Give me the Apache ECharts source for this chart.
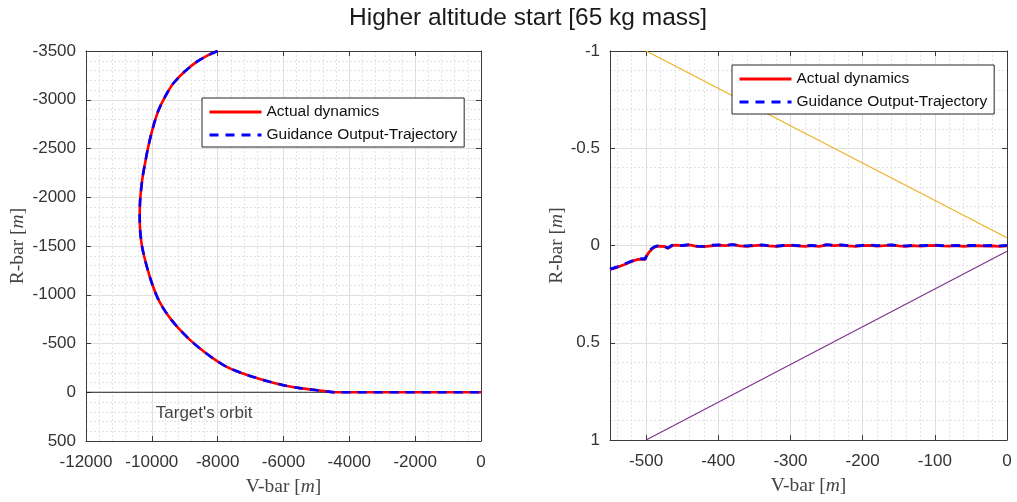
<!DOCTYPE html>
<html>
<head>
<meta charset="utf-8">
<script src="https://cdn.jsdelivr.net/npm/echarts@6/dist/echarts.min.js"></script>
<style>
html,body{margin:0;padding:0;background:#fff;}
#c{width:1017px;height:502px;}
</style>
</head>
<body>
<div id="c"></div>
<script>
// ---------- data ----------
const titleText = 'Higher altitude start [65 kg mass]';
const seriesNames = ['Actual dynamics', 'Guidance Output-Trajectory'];

// left panel: full approach [V-bar, R-bar]
const leftActual = [[-8000,-3500],[-8300,-3455],[-8640,-3388],[-9000,-3290],[-9350,-3166],[-9600,-3030],[-9800,-2890],[-9970,-2710],[-10110,-2516],[-10200,-2360],[-10280,-2208],[-10335,-2050],[-10360,-1938],[-10368,-1800],[-10355,-1661],[-10310,-1520],[-10230,-1390],[-10120,-1250],[-9990,-1110],[-9840,-980],[-9652,-860],[-9400,-740],[-9144,-640],[-8850,-540],[-8537,-448],[-8150,-350],[-7726,-260],[-7300,-200],[-6918,-157],[-6450,-110],[-6006,-72],[-5500,-42],[-4990,-21],[-4700,-9],[-4435,0],[-3000,0],[-1500,0],[0,0]];
const leftGuidance = [[-8000,-3500],[-8300,-3455],[-8640,-3388],[-9000,-3290],[-9350,-3166],[-9600,-3030],[-9800,-2890],[-9970,-2710],[-10110,-2516],[-10200,-2360],[-10280,-2208],[-10335,-2050],[-10360,-1938],[-10368,-1800],[-10355,-1661],[-10310,-1520],[-10230,-1390],[-10120,-1250],[-9990,-1110],[-9840,-980],[-9652,-860],[-9400,-740],[-9144,-640],[-8850,-540],[-8537,-448],[-8150,-350],[-7726,-260],[-7300,-200],[-6918,-157],[-6450,-110],[-6006,-72],[-5500,-42],[-4990,-21],[-4700,-9],[-4435,0],[-3000,0],[-1500,0],[0,0]];
const targetOrbit = [[-12000,0],[0,0]];
const orbitLabel = {x:-9880, y:215, text:"Target's orbit"};

// right panel: final approach [V-bar, R-bar]
const rightActual = [[-550,0.123],[-540,0.112],[-530,0.098],[-520,0.082],[-512,0.072],[-505,0.070],[-502,0.072],[-499,0.052],[-496,0.035],[-492,0.018],[-488,0.008],[-484,0.003],[-478,0.004],[-474,0.006],[-470,0.015],[-467,0.008],[-464,0.001],[-460,-0.002],[-450,0.001],[-440,-0.003],[-430,0.004],[-420,0.006],[-410,0.002],[-400,-0.002],[-390,0.001],[-380,-0.004],[-370,0.002],[-360,0.004],[-350,0.001],[-340,-0.002],[-330,0.002],[-320,0.005],[-310,0.001],[-300,-0.001],[-290,0.002],[-280,0.004],[-270,0.001],[-260,0.005],[-250,-0.003],[-240,0.001],[-230,-0.002],[-220,0.002],[-210,0.004],[-200,0.001],[-190,-0.001],[-180,0.003],[-170,0.001],[-160,-0.002],[-150,0.002],[-140,0.004],[-130,0.001],[-120,0.003],[-110,0.001],[-100,-0.001],[-90,0.002],[-80,0.003],[-70,0.001],[-60,0.004],[-50,0.002],[-40,0.001],[-30,0.003],[-20,0.002],[-10,0.004],[0,0.002]];
const rightGuidance = [[-550,0.121],[-540,0.110],[-530,0.095],[-520,0.080],[-512,0.070],[-505,0.068],[-501,0.070],[-499,0.045],[-496,0.030],[-492,0.015],[-488,0.006],[-484,0.002],[-478,0.003],[-474,0.005],[-470,0.013],[-467,0.006],[-464,-0.001],[-460,-0.003],[-450,0.000],[-440,-0.004],[-430,0.003],[-420,0.004],[-410,-0.001],[-400,-0.003],[-390,0.000],[-380,-0.005],[-370,0.001],[-360,0.002],[-350,-0.001],[-340,-0.003],[-330,0.001],[-320,0.003],[-310,0.000],[-300,-0.002],[-290,0.001],[-280,0.002],[-270,-0.001],[-260,0.003],[-250,-0.004],[-240,-0.001],[-230,-0.003],[-220,0.001],[-210,0.002],[-200,-0.001],[-190,-0.002],[-180,0.001],[-170,-0.001],[-160,-0.003],[-150,0.001],[-140,0.002],[-130,-0.001],[-120,0.001],[-110,-0.001],[-100,-0.002],[-90,0.001],[-80,0.001],[-70,-0.001],[-60,0.002],[-50,0.000],[-40,-0.001],[-30,0.001],[-20,0.000],[-10,0.002],[0,-0.001]];
const upperBound = [[-500,-1],[0,-0.04]];
const lowerBound = [[-500,1],[0,0.03]];

// axes ranges / ticks
const leftX = {min:-12000, max:0, interval:2000};
const leftY = {min:-3500, max:500, interval:500};
const rightX = {min:-550, max:0};
const rightY = {min:-1, max:1, interval:0.5};

// ---------- styling helpers ----------
const axisColor = '#3a3a3a';
const plainNum = v => String(v);
const labelFont = {fontFamily:'Liberation Sans, Arial, sans-serif', fontSize:17, color:'#333', formatter:plainNum};
const nameStyle = {fontFamily:'Liberation Serif, Times New Roman, serif', fontSize:19.5, color:'#444',
  rich:{i:{fontFamily:'Liberation Serif, Times New Roman, serif', fontStyle:'italic', fontSize:19.5, color:'#444'}}};
const majorGrid = {show:true, lineStyle:{color:'#dedede', width:1}};
const minorGrid = {show:true, lineStyle:{color:'#e4e4e4', width:1, type:[2,2]}};

function mainAxis(range, pos, gridIndex, extra) {
  return Object.assign({
    type:'value', gridIndex, position:pos,
    min:range.min, max:range.max, interval:range.interval,
    axisLine:{show:true, onZero:false, lineStyle:{color:axisColor, width:1}},
    axisTick:{show:true, inside:true, length:5, lineStyle:{color:axisColor}},
    axisLabel:Object.assign({show:true, margin:pos === 'bottom' ? 13 : 10}, labelFont),
    splitLine:majorGrid,
    minorTick:{show:false, splitNumber:5},
    minorSplitLine:minorGrid
  }, extra || {});
}
function mirrorAxis(range, pos, gridIndex, extra) {
  return Object.assign({
    type:'value', gridIndex, position:pos,
    min:range.min, max:range.max, interval:range.interval,
    axisLine:{show:true, onZero:false, lineStyle:{color:axisColor, width:1}},
    axisTick:{show:true, inside:true, length:5, lineStyle:{color:axisColor}},
    axisLabel:{show:false},
    splitLine:{show:false}
  }, extra || {});
}

const legendBase = {
  orient:'vertical', itemWidth:52, itemHeight:15, itemGap:7,
  padding:[6,7,4,6], backgroundColor:'#fff', borderColor:'#262626', borderWidth:1, borderRadius:0,
  itemStyle:{opacity:0},
  lineStyle:{width:3},
  textStyle:{fontFamily:'Liberation Sans, Arial, sans-serif', fontSize:15.5, color:'#111'},
  data:seriesNames, selectedMode:false
};

const chart = echarts.init(document.getElementById('c'), null, {renderer:'canvas'});
chart.setOption({
  animation:false,
  backgroundColor:'#fff',
  title:{text:titleText, left:344, top:1,
    textStyle:{fontFamily:'Liberation Sans, Arial, sans-serif', fontSize:24.5, fontWeight:'normal', color:'#1a1a1a'}},
  grid:[
    {left:86, right:536, top:51, bottom:61},
    {left:610, right:10, top:51, bottom:62}
  ],
  legend:[
    Object.assign({left:202, top:98}, legendBase),
    Object.assign({left:732, top:65}, legendBase)
  ],
  xAxis:[
    mainAxis(leftX, 'bottom', 0, {name:'V-bar [{i|m}]', nameLocation:'middle', nameGap:36, nameTextStyle:nameStyle}),
    mirrorAxis(leftX, 'top', 0),
    mainAxis(rightX, 'bottom', 1, {splitNumber:5, name:'V-bar [{i|m}]', nameLocation:'middle', nameGap:36, nameTextStyle:nameStyle,
      axisLabel:Object.assign({show:true, margin:13, showMinLabel:false}, labelFont)}),
    mirrorAxis(rightX, 'top', 1, {splitNumber:5})
  ],
  yAxis:[
    mainAxis(leftY, 'left', 0, {inverse:true, name:'R-bar [{i|m}]', nameLocation:'middle', nameGap:58, nameTextStyle:nameStyle}),
    mirrorAxis(leftY, 'right', 0, {inverse:true}),
    mainAxis(rightY, 'left', 1, {inverse:true, name:'R-bar [{i|m}]', nameLocation:'middle', nameGap:42, nameTextStyle:nameStyle}),
    mirrorAxis(rightY, 'right', 1, {inverse:true})
  ],
  series:[
    {type:'line', name:'orbit', xAxisIndex:0, yAxisIndex:0, data:targetOrbit, symbol:'none',
      lineStyle:{color:'#222', width:1}, silent:true, z:3},
    {type:'scatter', name:'orbitLabel', xAxisIndex:0, yAxisIndex:0, data:[[orbitLabel.x, orbitLabel.y]],
      symbolSize:0, silent:true,
      label:{show:true, position:'right', distance:0, formatter:orbitLabel.text,
        fontFamily:'Liberation Sans, Arial, sans-serif', fontSize:17, color:'#111'}},
    {type:'line', name:seriesNames[0], xAxisIndex:0, yAxisIndex:0, data:leftActual, symbol:'none', smooth:0.3,
      color:'#ff0000', lineStyle:{color:'#ff0000', width:2.6}, z:4},
    {type:'line', name:seriesNames[1], xAxisIndex:0, yAxisIndex:0, data:leftGuidance, symbol:'none', smooth:0.3,
      color:'#0000ff', lineStyle:{color:'#0000ff', width:2.6, type:[9,7]}, z:5},
    {type:'line', name:'upper', xAxisIndex:2, yAxisIndex:2, data:upperBound, symbol:'none',
      lineStyle:{color:'#EDB120', width:1.1}, silent:true, z:3},
    {type:'line', name:'lower', xAxisIndex:2, yAxisIndex:2, data:lowerBound, symbol:'none',
      lineStyle:{color:'#7E2F8E', width:1.1}, silent:true, z:3},
    {type:'line', name:seriesNames[0], xAxisIndex:2, yAxisIndex:2, data:rightActual, symbol:'none',
      color:'#ff0000', lineStyle:{color:'#ff0000', width:2.8}, z:4},
    {type:'line', name:seriesNames[1], xAxisIndex:2, yAxisIndex:2, data:rightGuidance, symbol:'none',
      color:'#0000ff', lineStyle:{color:'#0000ff', width:2.8, type:[9,7]}, z:5}
  ]
});
</script>
</body>
</html>
